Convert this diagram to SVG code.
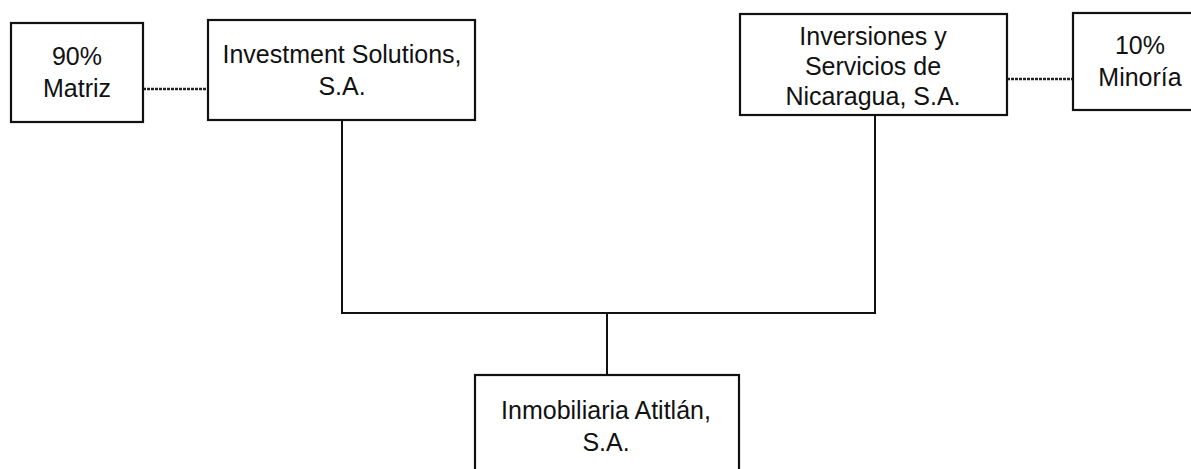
<svg xmlns="http://www.w3.org/2000/svg" width="1191" height="469" viewBox="0 0 1191 469">
<style>
.box{fill:#fff;stroke:#111;stroke-width:2.2}
.t{font-family:"Liberation Sans",Arial,sans-serif;font-size:25px;fill:#111;text-anchor:middle}
.ln{fill:none;stroke:#111;stroke-width:2}
.dl{fill:none;stroke:#222;stroke-width:2.4;stroke-dasharray:3 1}
</style>
<rect width="1191" height="469" fill="#fff"/>
<g id="connectors">
<path class="ln" d="M342 120 V313 H875 V115"/>
<path class="ln" d="M607 313 V375"/>
<path class="dl" d="M143 89 H208"/>
<path class="dl" d="M1007 79 H1073"/>
</g>
<g id="matriz">
<rect class="box" x="11" y="23" width="132" height="99"/>
<text class="t" x="77" y="65">90%</text>
<text class="t" x="77" y="97">Matriz</text>
</g>
<g id="investment">
<rect class="box" x="208" y="20" width="267" height="100"/>
<text class="t" x="342" y="63">Investment Solutions,</text>
<text class="t" x="342" y="95">S.A.</text>
</g>
<g id="inversiones">
<rect class="box" x="740" y="14" width="267" height="101"/>
<text class="t" x="873" y="45">Inversiones y</text>
<text class="t" x="873" y="75">Servicios de</text>
<text class="t" x="873" y="105">Nicaragua, S.A.</text>
</g>
<g id="minoria">
<rect class="box" x="1073" y="13" width="140" height="97"/>
<text class="t" x="1140" y="54">10%</text>
<text class="t" x="1140" y="86">Minoría</text>
</g>
<g id="inmobiliaria">
<rect class="box" x="475" y="375" width="264" height="110"/>
<text class="t" x="606" y="419">Inmobiliaria Atitlán,</text>
<text class="t" x="606" y="451">S.A.</text>
</g>
</svg>
